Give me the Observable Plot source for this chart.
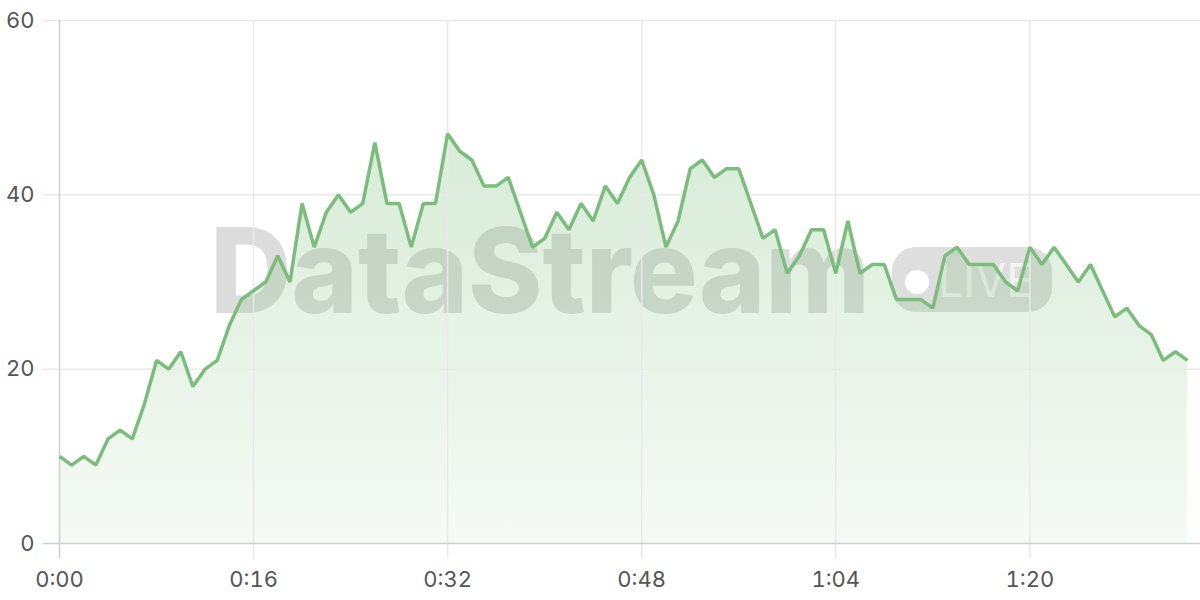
<!DOCTYPE html>
<html>
<head>
<meta charset="utf-8">
<script src="https://cdn.jsdelivr.net/npm/d3@7"></script>
<script src="https://cdn.jsdelivr.net/npm/@observablehq/plot@0.6"></script>
<style>
  html, body { margin: 0; padding: 0; background: #fff; }
  #wrap { position: relative; width: 1200px; height: 600px; overflow: hidden; }
  #wm { position: absolute; left: 0; top: 0; z-index: 0; }
  #chart { position: absolute; left: 0; top: 0; z-index: 1; }
  #chart svg { background: transparent; }
</style>
</head>
<body>
<div id="wrap">
  <svg id="wm" width="1200" height="600">
    <text x="210" y="313" font-family="Inter, 'DejaVu Sans', sans-serif" font-weight="800" font-size="118" fill="#dcdcdc" textLength="660" lengthAdjust="spacingAndGlyphs">DataStream</text>
    <rect x="892" y="247" width="160" height="65" rx="24" fill="#dedede"></rect>
    <circle cx="917" cy="282" r="12" fill="#ffffff"></circle>
    <text x="938" y="297" font-family="Inter, 'DejaVu Sans', sans-serif" font-weight="400" font-size="47" fill="#f3f3f3" textLength="95" lengthAdjust="spacingAndGlyphs">LIVE</text>
  </svg>
  <div id="chart"></div>
</div>
<script>
const values = [
  10, 9, 10, 9, 12, 13, 12, 16, 21, 20,
  22, 18, 20, 21, 25, 28, 29, 30, 33, 30,
  39, 34, 38, 40, 38, 39, 46, 39, 39, 34,
  39, 39, 47, 45, 44, 41, 41, 42, 38, 34,
  35, 38, 36, 39, 37, 41, 39, 42, 44, 40,
  34, 37, 43, 44, 42, 43, 43, 39, 35, 36,
  31, 33, 36, 36, 31, 37, 31, 32, 32, 28,
  28, 28, 27, 33, 34, 32, 32, 32, 30, 29,
  34, 32, 34, 32, 30, 32, 29, 26, 27, 25,
  24, 21, 22, 21
];
const xTicks = [0, 16, 32, 48, 64, 80];
const yTicks = [0, 20, 40, 60];

const data = values.map((v, i) => ({t: i, v}));
const fmt = s => `${Math.floor(s / 60)}:${String(s % 60).padStart(2, "0")}`;

const lineColor = "#7bbd7b";
const gridColor = "#e9e9e9";
const axisColor = "#cfcfcf";

const defs = () => {
  const g = d3.create("svg:defs");
  const lg = g.append("linearGradient").attr("id", "areaGrad")
    .attr("x1", 0).attr("y1", 0).attr("x2", 0).attr("y2", 1);
  lg.append("stop").attr("offset", "0%").attr("stop-color", lineColor).attr("stop-opacity", 0.3);
  lg.append("stop").attr("offset", "100%").attr("stop-color", lineColor).attr("stop-opacity", 0.07);
  return g.node();
};

const chart = Plot.plot({
  width: 1200,
  height: 600,
  marginLeft: 59,
  marginRight: 13,
  marginTop: 20,
  marginBottom: 57,
  style: {fontFamily: "Inter, 'Open Sans', sans-serif", fontSize: "22px", color: "#555", background: "transparent"},
  x: {domain: [0, values.length - 1], ticks: xTicks, tickFormat: fmt},
  y: {domain: [0, 60], ticks: yTicks},
  marks: [
    defs,
    Plot.areaY(data, {x: "t", y: "v", fill: "url(#areaGrad)"}),
    Plot.ruleY(yTicks.filter(d => d !== 0), {stroke: gridColor, strokeWidth: 1.5, insetLeft: -16, insetRight: -13}),
    Plot.ruleX(xTicks.filter(d => d !== 0), {stroke: gridColor, strokeWidth: 1.5, insetBottom: -15}),
    Plot.ruleX([0], {stroke: axisColor, strokeWidth: 1.5, insetBottom: -15}),
    Plot.ruleY([0], {stroke: axisColor, strokeWidth: 1.5, insetLeft: -16, insetRight: -13}),
    Plot.axisY({ticks: yTicks, tickSize: 0, tickPadding: 25, fill: "#555", label: null}),
    Plot.axisX({ticks: xTicks, tickFormat: fmt, tickSize: 0, tickPadding: 28, fill: "#555", label: null}),
    Plot.lineY(data, {x: "t", y: "v", stroke: lineColor, strokeWidth: 3.5, strokeLinejoin: "miter", strokeLinecap: "butt"})
  ]
});
document.getElementById("chart").appendChild(chart);
</script>
</body>
</html>
